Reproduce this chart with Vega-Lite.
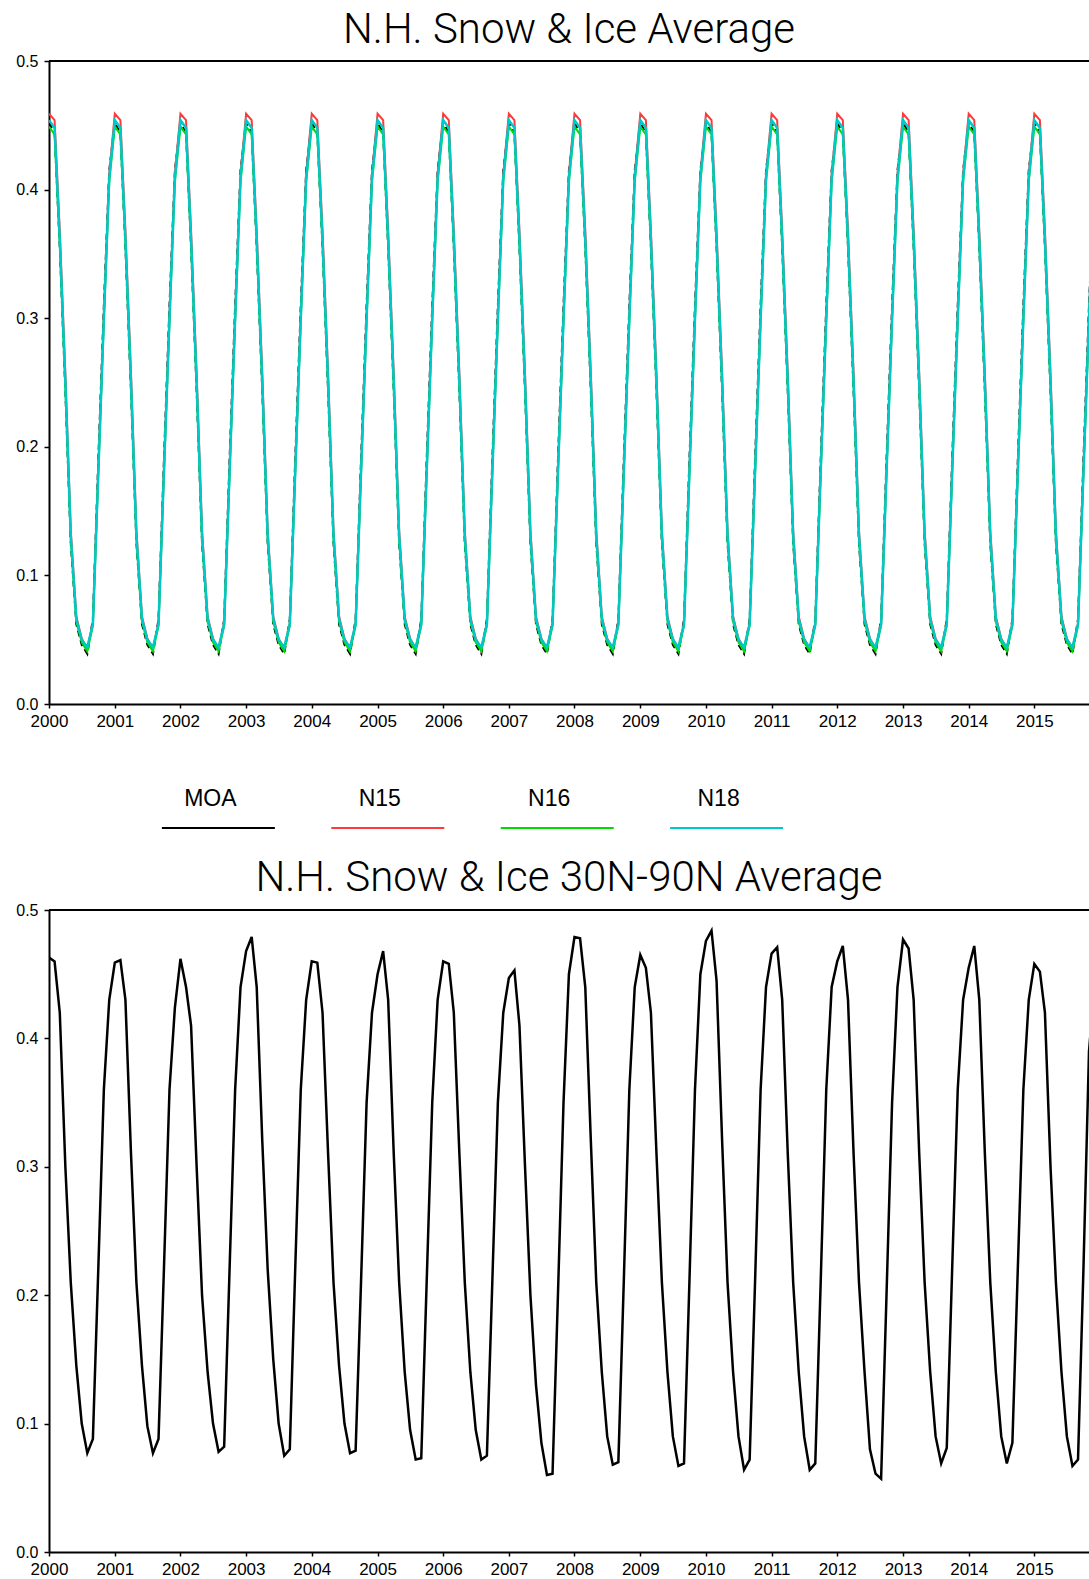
{
"$schema": "https://vega.github.io/schema/vega-lite/v6.json",
"background": "white",
"padding": {"left": 15, "top": 9, "right": 0, "bottom": 0},
"spacing": 0,
"bounds": "flush",
"config": {
  "view": {"stroke": null},
  "axis": {"grid": false, "title": null, "domainColor": "black", "domainWidth": 2, "tickColor": "black", "tickWidth": 1.5, "labelColor": "black", "labelFont": "Liberation Sans"},
  "title": {"font": "Roboto", "fontWeight": 300, "fontSize": 42, "color": "black", "anchor": "middle"}
},
"datasets": {
"leg": [{"s":"MOA"},{"s":"N15"},{"s":"N16"},{"s":"N18"}],
"main": [
{"t":"2000-01-01","MOA":0.452,"N15":0.459,"N16":0.449,"N18":0.454,"B":0.463},
{"t":"2000-02-01","MOA":0.444,"N15":0.454,"N16":0.443,"N18":0.448,"B":0.460},
{"t":"2000-03-01","MOA":0.355,"N15":0.368,"N16":0.358,"N18":0.361,"B":0.420},
{"t":"2000-04-01","MOA":0.243,"N15":0.257,"N16":0.247,"N18":0.250,"B":0.300},
{"t":"2000-05-01","MOA":0.125,"N15":0.135,"N16":0.128,"N18":0.131,"B":0.210},
{"t":"2000-06-01","MOA":0.062,"N15":0.068,"N16":0.064,"N18":0.066,"B":0.145},
{"t":"2000-07-01","MOA":0.046,"N15":0.051,"N16":0.048,"N18":0.050,"B":0.100},
{"t":"2000-08-01","MOA":0.039,"N15":0.043,"N16":0.041,"N18":0.044,"B":0.077},
{"t":"2000-09-01","MOA":0.066,"N15":0.063,"N16":0.061,"N18":0.062,"B":0.088},
{"t":"2000-10-01","MOA":0.190,"N15":0.182,"N16":0.179,"N18":0.180,"B":0.220},
{"t":"2000-11-01","MOA":0.310,"N15":0.302,"N16":0.298,"N18":0.300,"B":0.360},
{"t":"2000-12-01","MOA":0.415,"N15":0.412,"N16":0.406,"N18":0.409,"B":0.430},
{"t":"2001-01-01","MOA":0.452,"N15":0.459,"N16":0.449,"N18":0.454,"B":0.459},
{"t":"2001-02-01","MOA":0.444,"N15":0.454,"N16":0.443,"N18":0.448,"B":0.461},
{"t":"2001-03-01","MOA":0.355,"N15":0.368,"N16":0.358,"N18":0.361,"B":0.430},
{"t":"2001-04-01","MOA":0.243,"N15":0.257,"N16":0.247,"N18":0.250,"B":0.310},
{"t":"2001-05-01","MOA":0.125,"N15":0.135,"N16":0.128,"N18":0.131,"B":0.210},
{"t":"2001-06-01","MOA":0.062,"N15":0.068,"N16":0.064,"N18":0.066,"B":0.145},
{"t":"2001-07-01","MOA":0.046,"N15":0.051,"N16":0.048,"N18":0.050,"B":0.098},
{"t":"2001-08-01","MOA":0.039,"N15":0.043,"N16":0.041,"N18":0.044,"B":0.077},
{"t":"2001-09-01","MOA":0.066,"N15":0.063,"N16":0.061,"N18":0.062,"B":0.088},
{"t":"2001-10-01","MOA":0.190,"N15":0.182,"N16":0.179,"N18":0.180,"B":0.220},
{"t":"2001-11-01","MOA":0.310,"N15":0.302,"N16":0.298,"N18":0.300,"B":0.360},
{"t":"2001-12-01","MOA":0.415,"N15":0.412,"N16":0.406,"N18":0.409,"B":0.424},
{"t":"2002-01-01","MOA":0.452,"N15":0.459,"N16":0.449,"N18":0.454,"B":0.462},
{"t":"2002-02-01","MOA":0.444,"N15":0.454,"N16":0.443,"N18":0.448,"B":0.440},
{"t":"2002-03-01","MOA":0.355,"N15":0.368,"N16":0.358,"N18":0.361,"B":0.410},
{"t":"2002-04-01","MOA":0.243,"N15":0.257,"N16":0.247,"N18":0.250,"B":0.300},
{"t":"2002-05-01","MOA":0.125,"N15":0.135,"N16":0.128,"N18":0.131,"B":0.200},
{"t":"2002-06-01","MOA":0.062,"N15":0.068,"N16":0.064,"N18":0.066,"B":0.140},
{"t":"2002-07-01","MOA":0.046,"N15":0.051,"N16":0.048,"N18":0.050,"B":0.100},
{"t":"2002-08-01","MOA":0.039,"N15":0.043,"N16":0.041,"N18":0.044,"B":0.078},
{"t":"2002-09-01","MOA":0.066,"N15":0.063,"N16":0.061,"N18":0.062,"B":0.082},
{"t":"2002-10-01","MOA":0.190,"N15":0.182,"N16":0.179,"N18":0.180,"B":0.220},
{"t":"2002-11-01","MOA":0.310,"N15":0.302,"N16":0.298,"N18":0.300,"B":0.360},
{"t":"2002-12-01","MOA":0.415,"N15":0.412,"N16":0.406,"N18":0.409,"B":0.440},
{"t":"2003-01-01","MOA":0.452,"N15":0.459,"N16":0.449,"N18":0.454,"B":0.468},
{"t":"2003-02-01","MOA":0.444,"N15":0.454,"N16":0.443,"N18":0.448,"B":0.479},
{"t":"2003-03-01","MOA":0.355,"N15":0.368,"N16":0.358,"N18":0.361,"B":0.440},
{"t":"2003-04-01","MOA":0.243,"N15":0.257,"N16":0.247,"N18":0.250,"B":0.320},
{"t":"2003-05-01","MOA":0.125,"N15":0.135,"N16":0.128,"N18":0.131,"B":0.220},
{"t":"2003-06-01","MOA":0.062,"N15":0.068,"N16":0.064,"N18":0.066,"B":0.150},
{"t":"2003-07-01","MOA":0.046,"N15":0.051,"N16":0.048,"N18":0.050,"B":0.100},
{"t":"2003-08-01","MOA":0.039,"N15":0.043,"N16":0.041,"N18":0.044,"B":0.075},
{"t":"2003-09-01","MOA":0.066,"N15":0.063,"N16":0.061,"N18":0.062,"B":0.080},
{"t":"2003-10-01","MOA":0.190,"N15":0.182,"N16":0.179,"N18":0.180,"B":0.220},
{"t":"2003-11-01","MOA":0.310,"N15":0.302,"N16":0.298,"N18":0.300,"B":0.360},
{"t":"2003-12-01","MOA":0.415,"N15":0.412,"N16":0.406,"N18":0.409,"B":0.430},
{"t":"2004-01-01","MOA":0.452,"N15":0.459,"N16":0.449,"N18":0.454,"B":0.460},
{"t":"2004-02-01","MOA":0.444,"N15":0.454,"N16":0.443,"N18":0.448,"B":0.459},
{"t":"2004-03-01","MOA":0.355,"N15":0.368,"N16":0.358,"N18":0.361,"B":0.420},
{"t":"2004-04-01","MOA":0.243,"N15":0.257,"N16":0.247,"N18":0.250,"B":0.310},
{"t":"2004-05-01","MOA":0.125,"N15":0.135,"N16":0.128,"N18":0.131,"B":0.210},
{"t":"2004-06-01","MOA":0.062,"N15":0.068,"N16":0.064,"N18":0.066,"B":0.145},
{"t":"2004-07-01","MOA":0.046,"N15":0.051,"N16":0.048,"N18":0.050,"B":0.100},
{"t":"2004-08-01","MOA":0.039,"N15":0.043,"N16":0.041,"N18":0.044,"B":0.077},
{"t":"2004-09-01","MOA":0.066,"N15":0.063,"N16":0.061,"N18":0.062,"B":0.079},
{"t":"2004-10-01","MOA":0.190,"N15":0.182,"N16":0.179,"N18":0.180,"B":0.210},
{"t":"2004-11-01","MOA":0.310,"N15":0.302,"N16":0.298,"N18":0.300,"B":0.350},
{"t":"2004-12-01","MOA":0.415,"N15":0.412,"N16":0.406,"N18":0.409,"B":0.420},
{"t":"2005-01-01","MOA":0.452,"N15":0.459,"N16":0.449,"N18":0.454,"B":0.450},
{"t":"2005-02-01","MOA":0.444,"N15":0.454,"N16":0.443,"N18":0.448,"B":0.468},
{"t":"2005-03-01","MOA":0.355,"N15":0.368,"N16":0.358,"N18":0.361,"B":0.430},
{"t":"2005-04-01","MOA":0.243,"N15":0.257,"N16":0.247,"N18":0.250,"B":0.310},
{"t":"2005-05-01","MOA":0.125,"N15":0.135,"N16":0.128,"N18":0.131,"B":0.210},
{"t":"2005-06-01","MOA":0.062,"N15":0.068,"N16":0.064,"N18":0.066,"B":0.140},
{"t":"2005-07-01","MOA":0.046,"N15":0.051,"N16":0.048,"N18":0.050,"B":0.095},
{"t":"2005-08-01","MOA":0.039,"N15":0.043,"N16":0.041,"N18":0.044,"B":0.072},
{"t":"2005-09-01","MOA":0.066,"N15":0.063,"N16":0.061,"N18":0.062,"B":0.073},
{"t":"2005-10-01","MOA":0.190,"N15":0.182,"N16":0.179,"N18":0.180,"B":0.210},
{"t":"2005-11-01","MOA":0.310,"N15":0.302,"N16":0.298,"N18":0.300,"B":0.350},
{"t":"2005-12-01","MOA":0.415,"N15":0.412,"N16":0.406,"N18":0.409,"B":0.430},
{"t":"2006-01-01","MOA":0.452,"N15":0.459,"N16":0.449,"N18":0.454,"B":0.460},
{"t":"2006-02-01","MOA":0.444,"N15":0.454,"N16":0.443,"N18":0.448,"B":0.458},
{"t":"2006-03-01","MOA":0.355,"N15":0.368,"N16":0.358,"N18":0.361,"B":0.420},
{"t":"2006-04-01","MOA":0.243,"N15":0.257,"N16":0.247,"N18":0.250,"B":0.310},
{"t":"2006-05-01","MOA":0.125,"N15":0.135,"N16":0.128,"N18":0.131,"B":0.210},
{"t":"2006-06-01","MOA":0.062,"N15":0.068,"N16":0.064,"N18":0.066,"B":0.140},
{"t":"2006-07-01","MOA":0.046,"N15":0.051,"N16":0.048,"N18":0.050,"B":0.095},
{"t":"2006-08-01","MOA":0.039,"N15":0.043,"N16":0.041,"N18":0.044,"B":0.072},
{"t":"2006-09-01","MOA":0.066,"N15":0.063,"N16":0.061,"N18":0.062,"B":0.075},
{"t":"2006-10-01","MOA":0.190,"N15":0.182,"N16":0.179,"N18":0.180,"B":0.210},
{"t":"2006-11-01","MOA":0.310,"N15":0.302,"N16":0.298,"N18":0.300,"B":0.350},
{"t":"2006-12-01","MOA":0.415,"N15":0.412,"N16":0.406,"N18":0.409,"B":0.420},
{"t":"2007-01-01","MOA":0.452,"N15":0.459,"N16":0.449,"N18":0.454,"B":0.447},
{"t":"2007-02-01","MOA":0.444,"N15":0.454,"N16":0.443,"N18":0.448,"B":0.453},
{"t":"2007-03-01","MOA":0.355,"N15":0.368,"N16":0.358,"N18":0.361,"B":0.410},
{"t":"2007-04-01","MOA":0.243,"N15":0.257,"N16":0.247,"N18":0.250,"B":0.300},
{"t":"2007-05-01","MOA":0.125,"N15":0.135,"N16":0.128,"N18":0.131,"B":0.200},
{"t":"2007-06-01","MOA":0.062,"N15":0.068,"N16":0.064,"N18":0.066,"B":0.130},
{"t":"2007-07-01","MOA":0.046,"N15":0.051,"N16":0.048,"N18":0.050,"B":0.085},
{"t":"2007-08-01","MOA":0.039,"N15":0.043,"N16":0.041,"N18":0.044,"B":0.060},
{"t":"2007-09-01","MOA":0.066,"N15":0.063,"N16":0.061,"N18":0.062,"B":0.061},
{"t":"2007-10-01","MOA":0.190,"N15":0.182,"N16":0.179,"N18":0.180,"B":0.200},
{"t":"2007-11-01","MOA":0.310,"N15":0.302,"N16":0.298,"N18":0.300,"B":0.350},
{"t":"2007-12-01","MOA":0.415,"N15":0.412,"N16":0.406,"N18":0.409,"B":0.450},
{"t":"2008-01-01","MOA":0.452,"N15":0.459,"N16":0.449,"N18":0.454,"B":0.479},
{"t":"2008-02-01","MOA":0.444,"N15":0.454,"N16":0.443,"N18":0.448,"B":0.478},
{"t":"2008-03-01","MOA":0.355,"N15":0.368,"N16":0.358,"N18":0.361,"B":0.440},
{"t":"2008-04-01","MOA":0.243,"N15":0.257,"N16":0.247,"N18":0.250,"B":0.320},
{"t":"2008-05-01","MOA":0.125,"N15":0.135,"N16":0.128,"N18":0.131,"B":0.210},
{"t":"2008-06-01","MOA":0.062,"N15":0.068,"N16":0.064,"N18":0.066,"B":0.140},
{"t":"2008-07-01","MOA":0.046,"N15":0.051,"N16":0.048,"N18":0.050,"B":0.090},
{"t":"2008-08-01","MOA":0.039,"N15":0.043,"N16":0.041,"N18":0.044,"B":0.068},
{"t":"2008-09-01","MOA":0.066,"N15":0.063,"N16":0.061,"N18":0.062,"B":0.070},
{"t":"2008-10-01","MOA":0.190,"N15":0.182,"N16":0.179,"N18":0.180,"B":0.210},
{"t":"2008-11-01","MOA":0.310,"N15":0.302,"N16":0.298,"N18":0.300,"B":0.360},
{"t":"2008-12-01","MOA":0.415,"N15":0.412,"N16":0.406,"N18":0.409,"B":0.440},
{"t":"2009-01-01","MOA":0.452,"N15":0.459,"N16":0.449,"N18":0.454,"B":0.465},
{"t":"2009-02-01","MOA":0.444,"N15":0.454,"N16":0.443,"N18":0.448,"B":0.455},
{"t":"2009-03-01","MOA":0.355,"N15":0.368,"N16":0.358,"N18":0.361,"B":0.420},
{"t":"2009-04-01","MOA":0.243,"N15":0.257,"N16":0.247,"N18":0.250,"B":0.310},
{"t":"2009-05-01","MOA":0.125,"N15":0.135,"N16":0.128,"N18":0.131,"B":0.210},
{"t":"2009-06-01","MOA":0.062,"N15":0.068,"N16":0.064,"N18":0.066,"B":0.140},
{"t":"2009-07-01","MOA":0.046,"N15":0.051,"N16":0.048,"N18":0.050,"B":0.090},
{"t":"2009-08-01","MOA":0.039,"N15":0.043,"N16":0.041,"N18":0.044,"B":0.067},
{"t":"2009-09-01","MOA":0.066,"N15":0.063,"N16":0.061,"N18":0.062,"B":0.069},
{"t":"2009-10-01","MOA":0.190,"N15":0.182,"N16":0.179,"N18":0.180,"B":0.210},
{"t":"2009-11-01","MOA":0.310,"N15":0.302,"N16":0.298,"N18":0.300,"B":0.360},
{"t":"2009-12-01","MOA":0.415,"N15":0.412,"N16":0.406,"N18":0.409,"B":0.450},
{"t":"2010-01-01","MOA":0.452,"N15":0.459,"N16":0.449,"N18":0.454,"B":0.476},
{"t":"2010-02-01","MOA":0.444,"N15":0.454,"N16":0.443,"N18":0.448,"B":0.484},
{"t":"2010-03-01","MOA":0.355,"N15":0.368,"N16":0.358,"N18":0.361,"B":0.445},
{"t":"2010-04-01","MOA":0.243,"N15":0.257,"N16":0.247,"N18":0.250,"B":0.320},
{"t":"2010-05-01","MOA":0.125,"N15":0.135,"N16":0.128,"N18":0.131,"B":0.210},
{"t":"2010-06-01","MOA":0.062,"N15":0.068,"N16":0.064,"N18":0.066,"B":0.140},
{"t":"2010-07-01","MOA":0.046,"N15":0.051,"N16":0.048,"N18":0.050,"B":0.090},
{"t":"2010-08-01","MOA":0.039,"N15":0.043,"N16":0.041,"N18":0.044,"B":0.064},
{"t":"2010-09-01","MOA":0.066,"N15":0.063,"N16":0.061,"N18":0.062,"B":0.072},
{"t":"2010-10-01","MOA":0.190,"N15":0.182,"N16":0.179,"N18":0.180,"B":0.210},
{"t":"2010-11-01","MOA":0.310,"N15":0.302,"N16":0.298,"N18":0.300,"B":0.360},
{"t":"2010-12-01","MOA":0.415,"N15":0.412,"N16":0.406,"N18":0.409,"B":0.440},
{"t":"2011-01-01","MOA":0.452,"N15":0.459,"N16":0.449,"N18":0.454,"B":0.466},
{"t":"2011-02-01","MOA":0.444,"N15":0.454,"N16":0.443,"N18":0.448,"B":0.471},
{"t":"2011-03-01","MOA":0.355,"N15":0.368,"N16":0.358,"N18":0.361,"B":0.430},
{"t":"2011-04-01","MOA":0.243,"N15":0.257,"N16":0.247,"N18":0.250,"B":0.310},
{"t":"2011-05-01","MOA":0.125,"N15":0.135,"N16":0.128,"N18":0.131,"B":0.210},
{"t":"2011-06-01","MOA":0.062,"N15":0.068,"N16":0.064,"N18":0.066,"B":0.140},
{"t":"2011-07-01","MOA":0.046,"N15":0.051,"N16":0.048,"N18":0.050,"B":0.090},
{"t":"2011-08-01","MOA":0.039,"N15":0.043,"N16":0.041,"N18":0.044,"B":0.064},
{"t":"2011-09-01","MOA":0.066,"N15":0.063,"N16":0.061,"N18":0.062,"B":0.069},
{"t":"2011-10-01","MOA":0.190,"N15":0.182,"N16":0.179,"N18":0.180,"B":0.210},
{"t":"2011-11-01","MOA":0.310,"N15":0.302,"N16":0.298,"N18":0.300,"B":0.360},
{"t":"2011-12-01","MOA":0.415,"N15":0.412,"N16":0.406,"N18":0.409,"B":0.440},
{"t":"2012-01-01","MOA":0.452,"N15":0.459,"N16":0.449,"N18":0.454,"B":0.460},
{"t":"2012-02-01","MOA":0.444,"N15":0.454,"N16":0.443,"N18":0.448,"B":0.472},
{"t":"2012-03-01","MOA":0.355,"N15":0.368,"N16":0.358,"N18":0.361,"B":0.430},
{"t":"2012-04-01","MOA":0.243,"N15":0.257,"N16":0.247,"N18":0.250,"B":0.310},
{"t":"2012-05-01","MOA":0.125,"N15":0.135,"N16":0.128,"N18":0.131,"B":0.210},
{"t":"2012-06-01","MOA":0.062,"N15":0.068,"N16":0.064,"N18":0.066,"B":0.140},
{"t":"2012-07-01","MOA":0.046,"N15":0.051,"N16":0.048,"N18":0.050,"B":0.080},
{"t":"2012-08-01","MOA":0.039,"N15":0.043,"N16":0.041,"N18":0.044,"B":0.061},
{"t":"2012-09-01","MOA":0.066,"N15":0.063,"N16":0.061,"N18":0.062,"B":0.057},
{"t":"2012-10-01","MOA":0.190,"N15":0.182,"N16":0.179,"N18":0.180,"B":0.200},
{"t":"2012-11-01","MOA":0.310,"N15":0.302,"N16":0.298,"N18":0.300,"B":0.350},
{"t":"2012-12-01","MOA":0.415,"N15":0.412,"N16":0.406,"N18":0.409,"B":0.440},
{"t":"2013-01-01","MOA":0.452,"N15":0.459,"N16":0.449,"N18":0.454,"B":0.477},
{"t":"2013-02-01","MOA":0.444,"N15":0.454,"N16":0.443,"N18":0.448,"B":0.470},
{"t":"2013-03-01","MOA":0.355,"N15":0.368,"N16":0.358,"N18":0.361,"B":0.430},
{"t":"2013-04-01","MOA":0.243,"N15":0.257,"N16":0.247,"N18":0.250,"B":0.310},
{"t":"2013-05-01","MOA":0.125,"N15":0.135,"N16":0.128,"N18":0.131,"B":0.210},
{"t":"2013-06-01","MOA":0.062,"N15":0.068,"N16":0.064,"N18":0.066,"B":0.140},
{"t":"2013-07-01","MOA":0.046,"N15":0.051,"N16":0.048,"N18":0.050,"B":0.090},
{"t":"2013-08-01","MOA":0.039,"N15":0.043,"N16":0.041,"N18":0.044,"B":0.069},
{"t":"2013-09-01","MOA":0.066,"N15":0.063,"N16":0.061,"N18":0.062,"B":0.081},
{"t":"2013-10-01","MOA":0.190,"N15":0.182,"N16":0.179,"N18":0.180,"B":0.220},
{"t":"2013-11-01","MOA":0.310,"N15":0.302,"N16":0.298,"N18":0.300,"B":0.360},
{"t":"2013-12-01","MOA":0.415,"N15":0.412,"N16":0.406,"N18":0.409,"B":0.430},
{"t":"2014-01-01","MOA":0.452,"N15":0.459,"N16":0.449,"N18":0.454,"B":0.455},
{"t":"2014-02-01","MOA":0.444,"N15":0.454,"N16":0.443,"N18":0.448,"B":0.472},
{"t":"2014-03-01","MOA":0.355,"N15":0.368,"N16":0.358,"N18":0.361,"B":0.430},
{"t":"2014-04-01","MOA":0.243,"N15":0.257,"N16":0.247,"N18":0.250,"B":0.310},
{"t":"2014-05-01","MOA":0.125,"N15":0.135,"N16":0.128,"N18":0.131,"B":0.210},
{"t":"2014-06-01","MOA":0.062,"N15":0.068,"N16":0.064,"N18":0.066,"B":0.140},
{"t":"2014-07-01","MOA":0.046,"N15":0.051,"N16":0.048,"N18":0.050,"B":0.090},
{"t":"2014-08-01","MOA":0.039,"N15":0.043,"N16":0.041,"N18":0.044,"B":0.069},
{"t":"2014-09-01","MOA":0.066,"N15":0.063,"N16":0.061,"N18":0.062,"B":0.085},
{"t":"2014-10-01","MOA":0.190,"N15":0.182,"N16":0.179,"N18":0.180,"B":0.220},
{"t":"2014-11-01","MOA":0.310,"N15":0.302,"N16":0.298,"N18":0.300,"B":0.360},
{"t":"2014-12-01","MOA":0.415,"N15":0.412,"N16":0.406,"N18":0.409,"B":0.430},
{"t":"2015-01-01","MOA":0.452,"N15":0.459,"N16":0.449,"N18":0.454,"B":0.458},
{"t":"2015-02-01","MOA":0.444,"N15":0.454,"N16":0.443,"N18":0.448,"B":0.452},
{"t":"2015-03-01","MOA":0.355,"N15":0.368,"N16":0.358,"N18":0.361,"B":0.420},
{"t":"2015-04-01","MOA":0.243,"N15":0.257,"N16":0.247,"N18":0.250,"B":0.300},
{"t":"2015-05-01","MOA":0.125,"N15":0.135,"N16":0.128,"N18":0.131,"B":0.210},
{"t":"2015-06-01","MOA":0.062,"N15":0.068,"N16":0.064,"N18":0.066,"B":0.140},
{"t":"2015-07-01","MOA":0.046,"N15":0.051,"N16":0.048,"N18":0.050,"B":0.090},
{"t":"2015-08-01","MOA":0.039,"N15":0.043,"N16":0.041,"N18":0.044,"B":0.067},
{"t":"2015-09-01","MOA":0.066,"N15":0.063,"N16":0.061,"N18":0.062,"B":0.072},
{"t":"2015-10-01","MOA":0.190,"N15":0.182,"N16":0.179,"N18":0.180,"B":0.220},
{"t":"2015-11-01","MOA":0.310,"N15":0.302,"N16":0.298,"N18":0.300,"B":0.390},
{"t":"2015-12-01","MOA":0.415,"N15":0.412,"N16":0.406,"N18":0.409,"B":0.440}
]
},
"vconcat": [
{
  "width": 1040, "height": 643,
  "title": {"text": "N.H. Snow & Ice Average", "offset": 1},
  "layer": [
    {"data": {"values": [{}]}, "mark": {"type": "rule", "color": "black", "strokeWidth": 2}, "encoding": {"y": {"datum": 0.5, "type": "quantitative"}}},
    {
      "data": {"name": "main"},
      "encoding": {"x": {"field": "t", "type": "temporal", "scale": {"type": "utc", "nice": false, "domain": [{"year": 2000, "month": 1, "date": 1, "utc": true}, {"year": 2015, "month": 11, "date": 1, "utc": true}]}, "axis": {"format": "%Y", "tickCount": {"interval": "year", "step": 1}, "labelFlush": false, "labelOverlap": false, "tickSize": 4, "labelPadding": 5, "labelFontSize": 17}}},
      "layer": [
        {"mark": {"type": "line", "color": "black", "strokeWidth": 2, "strokeDash": [6, 4], "clip": true}, "encoding": {"y": {"field": "MOA", "type": "quantitative", "scale": {"domain": [0, 0.5], "nice": false}, "axis": {"values": [0, 0.1, 0.2, 0.3, 0.4, 0.5], "format": ".1f", "tickSize": 5, "labelPadding": 6, "labelFontSize": 16}}}},
        {"mark": {"type": "line", "color": "#fa3c3c", "strokeWidth": 2, "clip": true}, "encoding": {"y": {"field": "N15", "type": "quantitative", "scale": {"domain": [0, 0.5], "nice": false}, "axis": {"values": [0, 0.1, 0.2, 0.3, 0.4, 0.5], "format": ".1f", "tickSize": 5, "labelPadding": 6, "labelFontSize": 16}}}},
        {"mark": {"type": "line", "color": "#00dc00", "strokeWidth": 2, "clip": true}, "encoding": {"y": {"field": "N16", "type": "quantitative", "scale": {"domain": [0, 0.5], "nice": false}, "axis": {"values": [0, 0.1, 0.2, 0.3, 0.4, 0.5], "format": ".1f", "tickSize": 5, "labelPadding": 6, "labelFontSize": 16}}}},
        {"mark": {"type": "line", "color": "#00c8c8", "strokeWidth": 2.5, "clip": true}, "encoding": {"y": {"field": "N18", "type": "quantitative", "scale": {"domain": [0, 0.5], "nice": false}, "axis": {"values": [0, 0.1, 0.2, 0.3, 0.4, 0.5], "format": ".1f", "tickSize": 5, "labelPadding": 6, "labelFontSize": 16}}}}
      ]
    }
  ]
},
{
  "width": 847, "height": 206,
  "data": {"name": "leg"},
  "encoding": {"x": {"field": "s", "type": "nominal", "sort": null, "scale": {"type": "point", "padding": 1}, "axis": null}},
  "layer": [
    {"mark": {"type": "tick", "orient": "horizontal", "size": 113, "thickness": 2, "yOffset": 21, "opacity": 1}, "encoding": {"color": {"field": "s", "type": "nominal", "scale": {"domain": ["MOA", "N15", "N16", "N18"], "range": ["#000000", "#fa3c3c", "#00dc00", "#00c8c8"]}, "legend": null}}},
    {"mark": {"type": "text", "font": "Liberation Sans", "fontSize": 23, "color": "black", "baseline": "middle", "xOffset": -8, "yOffset": -8}, "encoding": {"text": {"field": "s"}}}
  ]
},
{
  "width": 1040, "height": 642,
  "title": {"text": "N.H. Snow & Ice 30N-90N Average", "offset": 2},
  "layer": [
    {"data": {"values": [{}]}, "mark": {"type": "rule", "color": "black", "strokeWidth": 2}, "encoding": {"y": {"datum": 0.5, "type": "quantitative"}}},
    {
      "data": {"name": "main"},
      "mark": {"type": "line", "color": "black", "strokeWidth": 2.5, "clip": true},
      "encoding": {
        "x": {"field": "t", "type": "temporal", "scale": {"type": "utc", "nice": false, "domain": [{"year": 2000, "month": 1, "date": 1, "utc": true}, {"year": 2015, "month": 11, "date": 1, "utc": true}]}, "axis": {"format": "%Y", "tickCount": {"interval": "year", "step": 1}, "labelFlush": false, "labelOverlap": false, "tickSize": 4, "labelPadding": 5, "labelFontSize": 17}},
        "y": {"field": "B", "type": "quantitative", "scale": {"domain": [0, 0.5], "nice": false}, "axis": {"values": [0, 0.1, 0.2, 0.3, 0.4, 0.5], "format": ".1f", "tickSize": 5, "labelPadding": 6, "labelFontSize": 16}}
      }
    }
  ]
}
]
}
